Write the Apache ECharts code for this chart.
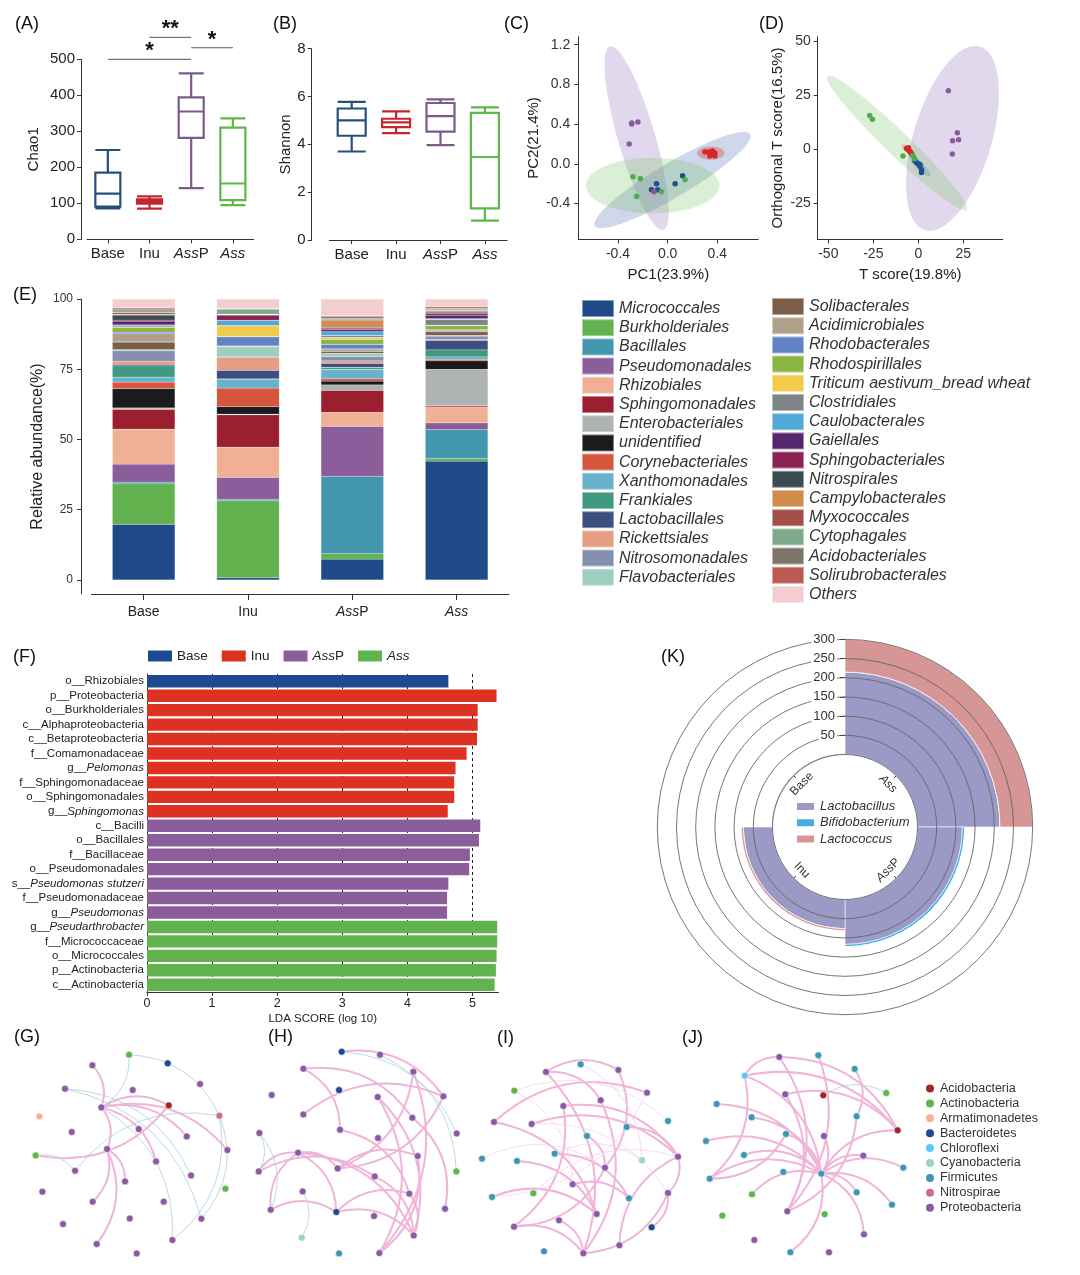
<!DOCTYPE html>
<html><head><meta charset="utf-8">
<script src="https://cdn.jsdelivr.net/npm/echarts@6/dist/echarts.min.js"></script>
<style>html,body{margin:0;padding:0;background:#fff}#c{width:1080px;height:1275px}</style>
</head><body><div id="c"></div>
<script>
// ---------------- DATA ----------------
const groups = ['Base', 'Inu', 'AssP', 'Ass'];
// (A) Chao1 boxplots: [min, Q1, median, Q3, max]
const chao1Box = [[86, 91, 127, 185, 248], [85, 99, 105, 111, 119], [142, 282, 355, 394, 461], [95, 109, 155, 310, 336]];
// significance brackets: [fromGroupIndex, y, toGroupIndex]
const chao1Sig = [[0, 500, 2], [1, 561, 2], [2, 532, 3]];
const chao1SigLabels = ['*', '**', '*'];
// (B) Shannon boxplots
const shannonBox = [[3.70, 4.36, 5.00, 5.50, 5.78], [4.47, 4.72, 4.92, 5.07, 5.38], [3.97, 4.53, 5.18, 5.73, 5.88], [0.81, 1.32, 3.47, 5.32, 5.55]];
// (C) PCoA points
const pcoaBase = [[-0.09, -0.20], [-0.13, -0.26], [-0.08, -0.26], [0.06, -0.20], [0.12, -0.12], [0.36, 0.11]];
const pcoaInu = [[0.30, 0.12], [0.33, 0.12], [0.36, 0.13], [0.38, 0.11], [0.34, 0.08], [0.38, 0.08], [0.36, 0.10]];
const pcoaAssP = [[-0.29, 0.40], [-0.29, 0.41], [-0.24, 0.42], [-0.31, 0.20], [-0.11, -0.28]];
const pcoaAss = [[-0.28, -0.13], [-0.22, -0.15], [-0.25, -0.33], [-0.05, -0.28], [0.14, -0.16]];
// confidence ellipses [cx, cy, ux, uy, vx, vy] (conjugate semi-axes, data units), order Base, Inu, AssP, Ass
const pcoaEllipses = [[0.039, -0.163, 0.625, 0.461, 0.070, -0.148], [0.347, 0.108, 0.111, 0, 0, 0.067], [-0.25, 0.259, 0.215, -0.923, 0.144, 0.052], [-0.121, -0.219, 0.538, 0, 0, 0.280]];
// (D) OPLS-DA
const oplsBase = [[-1.8, -5.5], [0, -6.9], [0.9, -7.9], [-0.9, -6.3], [1.8, -9.4], [1.8, -10.8], [0.9, -7.2]];
const oplsInu = [[-6.5, 0.3], [-5.8, -0.2], [-5.2, -0.6], [-4.6, -1.2], [-4.0, -1.8], [-3.6, -2.4], [-5.5, 0.6]];
const oplsAssP = [[16.7, 26.9], [21.7, 7.5], [22.4, 4.3], [19.1, 3.8], [18.9, -2.3]];
const oplsAss = [[-27, 15.5], [-25.5, 13.8], [-8.5, -3.2], [-3, -3], [-2, -4.5]];
const oplsEllipses = [[0.94, -7.85, 5.5, -4.57, 1.57, 1.3], [-5.7, -0.46, 3.3, -2.3, 1.07, 1.07], [19.0, 4.94, 15.3, 42.4, 20.8, -5.17], [-11.8, 2.77, 38.7, -30.9, 4.6, 4.0]];
// (E) relative abundance
const taxa = ['Micrococcales', 'Burkholderiales', 'Bacillales', 'Pseudomonadales', 'Rhizobiales', 'Sphingomonadales', 'Enterobacteriales', 'unidentified', 'Corynebacteriales', 'Xanthomonadales', 'Frankiales', 'Lactobacillales', 'Rickettsiales', 'Nitrosomonadales', 'Flavobacteriales', 'Solibacterales', 'Acidimicrobiales', 'Rhodobacterales', 'Rhodospirillales', 'Triticum aestivum_bread wheat', 'Clostridiales', 'Caulobacterales', 'Gaiellales', 'Sphingobacteriales', 'Nitrospirales', 'Campylobacterales', 'Myxococcales', 'Cytophagales', 'Acidobacteriales', 'Solirubrobacterales', 'Others'];
const abundBase = [19.8, 14.4, 0.6, 6.4, 12.5, 7.0, 0.5, 6.9, 2.3, 1.8, 4.0, 0.5, 1.2, 3.7, 0.4, 2.7, 3.0, 0.5, 1.7, 0.2, 0.4, 0.3, 1.3, 0.4, 1.8, 0.3, 0.6, 0.6, 0.6, 0.4, 3.2];
const abundInu = [0.8, 27.4, 0.6, 7.7, 10.8, 11.5, 0.2, 2.7, 6.6, 3.1, 0.2, 3.0, 4.6, 0.2, 3.6, 0.2, 0.1, 3.2, 0.2, 3.7, 0.2, 1.7, 0.1, 1.9, 0.1, 0.1, 0.1, 1.8, 0.1, 0.1, 3.4];
const abundAssP = [7.4, 2.0, 27.5, 17.8, 4.9, 7.9, 1.9, 1.4, 0.8, 3.3, 0.8, 1.4, 0.9, 1.5, 1.1, 0.8, 0.8, 1.7, 1.7, 0.7, 0.7, 1.4, 0.7, 0.5, 0.3, 2.4, 0.5, 0.3, 0.7, 0.2, 6.0];
const abundAss = [42.3, 1.0, 10.2, 2.4, 5.7, 0.5, 12.8, 3.1, 0.5, 0.9, 2.5, 3.4, 0.3, 1.2, 0.2, 1.3, 0.5, 0.3, 1.4, 0.2, 2.0, 0.3, 1.2, 0.7, 0.4, 0.2, 0.4, 0.4, 0.4, 0.5, 2.8];
// (F) LEfSe
const ldaNames = ['o__Rhizobiales', 'p__Proteobacteria', 'o__Burkholderiales', 'c__Alphaproteobacteria', 'c__Betaproteobacteria', 'f__Comamonadaceae', 'g__Pelomonas', 'f__Sphingomonadaceae', 'o__Sphingomonadales', 'g__Sphingomonas', 'c__Bacilli', 'o__Bacillales', 'f__Bacillaceae', 'o__Pseudomonadales', 's__Pseudomonas stutzeri', 'f__Pseudomonadaceae', 'g__Pseudomonas', 'g__Pseudarthrobacter', 'f__Micrococcaceae', 'o__Micrococcales', 'p__Actinobacteria', 'c__Actinobacteria'];
const ldaScores = [4.63, 5.37, 5.08, 5.08, 5.07, 4.91, 4.74, 4.72, 4.72, 4.62, 5.12, 5.10, 4.96, 4.95, 4.63, 4.61, 4.61, 5.38, 5.38, 5.37, 5.36, 5.34];
const ldaGroups = ['Base', 'Inu', 'Inu', 'Inu', 'Inu', 'Inu', 'Inu', 'Inu', 'Inu', 'Inu', 'AssP', 'AssP', 'AssP', 'AssP', 'AssP', 'AssP', 'AssP', 'Ass', 'Ass', 'Ass', 'Ass', 'Ass'];
// (K) polar stacked bars
const polarCats = ['Ass', 'AssP', 'Inu', 'Base'];
const kNames = ['Lactobacillus', 'Bifidobacterium', 'Lactococcus'];
const lactobacillus = [215, 117, 76, 4];
const bifidobacterium = [0, 6, 0, 0];
const lactococcus = [85, 0, 5, 0];
// (G-J) co-occurrence networks: nodes [x, y, phylumIndex], edges [source, target, kind]
const phyla = ['Acidobacteria', 'Actinobacteria', 'Armatimonadetes', 'Bacteroidetes', 'Chloroflexi', 'Cyanobacteria', 'Firmicutes', 'Nitrospirae', 'Proteobacteria'];
const gNodes = [[387,104,1],[503,130,3],[277,136,8],[600,192,8],[195,206,8],[398,210,8],[506,256,0],[304,262,8],[118,289,2],[658,287,7],[416,327,8],[215,336,8],[560,349,8],[321,387,8],[682,390,8],[107,406,1],[468,424,8],[225,452,8],[573,466,8],[375,484,8],[127,515,8],[676,506,1],[278,545,8],[491,545,8],[389,595,8],[604,596,8],[189,612,8],[517,660,8],[290,672,8],[410,700,8]];
const gEdges = [[2,7,'p'],[7,6,'p'],[7,14,'p'],[7,12,'p'],[7,16,'p'],[7,13,'p'],[6,15,'p'],[13,22,'p'],[13,19,'p'],[13,28,'p'],[0,9,'n'],[0,7,'n'],[4,18,'n'],[4,25,'n'],[15,17,'n'],[17,9,'n'],[9,25,'n'],[9,27,'n'],[7,27,'n']];
const hNodes = [[1025,95,3],[1140,104,8],[910,146,8],[1240,155,8],[1017,210,3],[815,225,8],[1133,231,8],[1330,229,8],[910,283,8],[1237,293,8],[1020,329,8],[778,339,8],[1370,340,8],[1134,354,8],[894,398,8],[1253,408,8],[776,454,8],[1013,445,8],[1369,454,1],[1124,469,8],[908,514,8],[1228,521,8],[812,569,8],[1009,576,3],[1335,566,8],[1122,588,8],[1241,646,8],[905,653,5],[1017,700,6],[1138,699,8]];
const hEdges = [[0,7,'p'],[2,10,'p'],[2,9,'p'],[3,17,'p'],[3,29,'p'],[8,7,'p'],[7,17,'p'],[6,26,'p'],[6,29,'p'],[9,24,'p'],[10,21,'p'],[14,17,'p'],[14,23,'p'],[14,26,'p'],[16,14,'p'],[16,19,'p'],[22,14,'p'],[22,23,'p'],[23,21,'p'],[23,26,'p'],[19,26,'p'],[15,29,'p'],[17,15,'p'],[21,26,'p'],[0,12,'n'],[1,18,'n'],[11,22,'n'],[11,16,'n'],[20,27,'n']];
const iNodes = [[332,133,6],[228,156,8],[445,150,8],[133,212,1],[531,218,8],[392,241,8],[280,258,8],[72,306,8],[185,312,8],[594,303,6],[470,321,6],[351,348,6],[36,416,6],[141,423,6],[254,401,6],[516,421,5],[624,410,8],[405,443,8],[308,493,8],[190,520,1],[66,531,6],[477,535,6],[594,519,8],[380,582,8],[267,601,8],[545,622,3],[132,620,8],[222,694,6],[340,700,8],[448,676,8]];
const iEdges = [[1,2,'p'],[1,5,'p'],[5,28,'p'],[6,26,'p'],[7,4,'p'],[7,23,'p'],[10,16,'p'],[6,16,'p'],[13,23,'p'],[17,26,'p'],[18,21,'p'],[20,23,'p'],[22,28,'p'],[16,22,'p'],[22,25,'p'],[24,28,'p'],[26,28,'p'],[29,16,'p'],[1,28,'p'],[2,17,'p'],[11,17,'p'],[8,16,'p'],[14,21,'p'],[3,9,'w'],[12,17,'w'],[8,22,'w'],[19,16,'w'],[14,15,'w'],[0,15,'w'],[4,20,'w'],[3,18,'w']];
const jNodes = [[928,111,8],[1045,106,6],[824,167,4],[1154,147,6],[946,223,8],[1060,226,0],[1249,219,1],[740,252,6],[845,292,6],[1160,289,6],[1283,331,0],[948,342,6],[1062,348,8],[708,363,6],[822,405,6],[1180,407,8],[1300,443,6],[940,456,6],[1054,461,6],[719,476,6],[846,523,1],[1160,517,6],[1266,554,6],[952,574,8],[1064,583,1],[757,587,1],[1182,643,8],[853,660,8],[961,697,6],[1077,697,8]];
const jEdges = [[2,0,'p'],[2,19,'p'],[2,10,'p'],[0,10,'p'],[0,23,'p'],[4,23,'p'],[4,10,'p'],[1,23,'p'],[3,9,'p'],[9,23,'p'],[7,18,'p'],[8,18,'p'],[11,19,'p'],[13,18,'p'],[19,18,'p'],[20,18,'p'],[18,10,'p'],[18,16,'p'],[18,21,'p'],[18,22,'p'],[18,26,'p'],[18,28,'p'],[2,18,'p'],[11,18,'p'],[12,18,'p'],[18,15,'p'],[14,18,'p'],[5,6,'n']];

// ---------------- STYLE ----------------
const FONT = "'Liberation Sans', Arial, Helvetica, sans-serif";
const groupColors = ['#24507c', '#c1272d', '#7b5a8c', '#5cb848'];
const scatterColors = ['#1f4e8f', '#d62728', '#8c5aa0', '#4cae4c'];
const ellipseFills = ['rgba(60,100,170,0.25)', 'rgba(215,60,60,0.35)', 'rgba(150,115,190,0.28)', 'rgba(110,190,90,0.25)'];
const taxaColors = ['#1f4a8a', '#63b250', '#4296ad', '#8b5e9b', '#f0b095', '#9b1f2f', '#adb4b2', '#1b1a1c', '#d6553f', '#68b3cb', '#409a80', '#3d4f80', '#e59d83', '#8590b1', '#9ccfc0', '#7a5e48', '#b0a08a', '#6282c5', '#8bb543', '#f2cb4c', '#7f8486', '#4fa8d6', '#56266e', '#8b2252', '#3a4b51', '#d08d4e', '#a44c48', '#7fa98d', '#7d7668', '#bb5a52', '#f3cdd0'];
const ldaColors = ['#1f4a8f', '#dc3123', '#8b5e9b', '#63b250'];
const kColors = ['#9b99c6', '#44aee0', '#d69696'];
const phylumColors = ['#a2252a', '#5cb84a', '#f5b497', '#1d4b8c', '#5cc8f7', '#98d3c3', '#3b97b4', '#c6708a', '#8a5aa4'];
const edgeStyles = {
  p: {color: '#f0b4d8', width: 2, curveness: 0.3, opacity: 1},
  w: {color: '#f6d2e8', width: 0.8, curveness: 0.3, opacity: 1},
  n: {color: '#a9cfdc', width: 0.8, curveness: 0.3, opacity: 1}
};

const grpFmt = v => v === 'AssP' ? '{i|Ass}P' : (v === 'Ass' ? '{i|Ass}' : v);
function grpLabel(size, margin) {
  return {interval: 0, formatter: grpFmt, fontSize: size, color: '#222', margin: margin, fontFamily: FONT,
    rich: {i: {fontStyle: 'italic', fontSize: size, color: '#222', fontFamily: FONT}}};
}
const axLine = {show: true, onZero: false, lineStyle: {color: '#333', width: 1}};
const axTick = {show: true, length: 4, lineStyle: {color: '#333'}};
const noBounds = {containLabel: false, outerBoundsMode: 'none'};

function ellipseRender(fills) {
  return function (params, api) {
    const cx = api.value(0), cy = api.value(1), ux = api.value(2), uy = api.value(3), vx = api.value(4), vy = api.value(5);
    const pts = [];
    for (let k = 0; k < 90; k++) {
      const t = k / 90 * 2 * Math.PI;
      pts.push(api.coord([cx + Math.cos(t) * ux + Math.sin(t) * vx, cy + Math.cos(t) * uy + Math.sin(t) * vy]));
    }
    return {type: 'polygon', shape: {points: pts}, style: {fill: fills[params.dataIndex]}};
  };
}

function graphSeries(nodes, edges, box) {
  return {
    type: 'graph', layout: 'none', left: box[0], top: box[1], width: box[2], height: box[3],
    roam: false, silent: true, symbolSize: 7,
    categories: phyla.map((p, i) => ({name: p, itemStyle: {color: phylumColors[i]}})),
    itemStyle: {borderColor: '#fff', borderWidth: 0.6},
    label: {show: false}, emphasis: {disabled: true},
    lineStyle: {curveness: 0.3},
    data: nodes.map((n, i) => ({name: 'n' + i, x: n[0], y: n[1], category: n[2]})),
    links: edges.map(e => ({source: e[0], target: e[1], lineStyle: edgeStyles[e[2]]}))
  };
}

const titleDefs = [['(A)', 15, 15], ['(B)', 273, 15], ['(C)', 504, 15], ['(D)', 759, 15], ['(E)', 13, 286], ['(F)', 13, 648], ['(K)', 661, 648], ['(G)', 14, 1028], ['(H)', 268, 1028], ['(I)', 497, 1029], ['(J)', 682, 1029]];

const option = {
  animation: false,
  backgroundColor: '#fff',
  textStyle: {fontFamily: FONT},
  title: titleDefs.map(t => ({text: t[0], left: t[1], top: t[2], padding: 0, textStyle: {fontSize: 18, fontWeight: 'normal', color: '#111', fontFamily: FONT}})),
  grid: [
    Object.assign({left: 87, top: 59.3, width: 166.7, height: 180}, noBounds),
    Object.assign({left: 329.5, top: 48.7, width: 177.6, height: 191.3}, noBounds),
    Object.assign({left: 578.3, top: 36.7, width: 180, height: 202.6}, noBounds),
    Object.assign({left: 817.7, top: 36.7, width: 185, height: 202.6}, noBounds),
    Object.assign({left: 91.5, top: 299, width: 417.3, height: 295}, noBounds),
    Object.assign({left: 147, top: 674, width: 351.5, height: 318}, noBounds)
  ],
  polar: [{center: [845, 827], radius: [72.5, 187.7]}],
  angleAxis: [{polarIndex: 0, type: 'category', data: polarCats, startAngle: 90, clockwise: true,
    axisLine: {show: false}, axisTick: {show: false}, axisLabel: {show: false}, splitLine: {show: false}}],
  radiusAxis: [{polarIndex: 0, type: 'value', min: 0, max: 300, interval: 50, z: 5,
    axisLine: {show: false}, axisTick: {show: true, length: 5, lineStyle: {color: '#444'}},
    axisLabel: {showMinLabel: false, fontSize: 13, color: '#333', backgroundColor: '#fff', padding: [0, 2, 0, 2]},
    splitLine: {show: true, showMinLine: false, lineStyle: {color: '#666', width: 0.9}}}],
  xAxis: [
    {gridIndex: 0, type: 'category', data: groups, axisLine: axLine, axisTick: Object.assign({alignWithLabel: true}, axTick), axisLabel: grpLabel(15, 7)},
    {gridIndex: 1, type: 'category', data: groups, axisLine: axLine, axisTick: Object.assign({alignWithLabel: true}, axTick), axisLabel: grpLabel(15, 7)},
    {gridIndex: 2, type: 'value', min: -0.72, max: 0.73, axisLine: axLine,
      axisTick: Object.assign({customValues: [-0.4, 0, 0.4]}, axTick),
      axisLabel: {customValues: [-0.4, 0, 0.4], formatter: v => v.toFixed(1), fontSize: 14, color: '#333', margin: 8},
      splitLine: {show: false}, name: 'PC1(23.9%)', nameLocation: 'middle', nameGap: 28, nameTextStyle: {fontSize: 15, color: '#222'}},
    {gridIndex: 3, type: 'value', min: -55.9, max: 46.9, axisLine: axLine,
      axisTick: Object.assign({customValues: [-50, -25, 0, 25]}, axTick),
      axisLabel: {customValues: [-50, -25, 0, 25], formatter: v => String(v), fontSize: 14, color: '#333', margin: 8},
      splitLine: {show: false}, name: 'T score(19.8%)', nameLocation: 'middle', nameGap: 28, nameTextStyle: {fontSize: 15, color: '#222'}},
    {gridIndex: 4, type: 'category', data: groups, axisLine: axLine, axisTick: Object.assign({alignWithLabel: true}, axTick, {length: 6}), axisLabel: grpLabel(14, 11)},
    {gridIndex: 5, type: 'value', min: 0, max: 5.4, interval: 1, axisLine: axLine, axisTick: axTick,
      axisLabel: {showMaxLabel: false, fontSize: 12.5, color: '#222', margin: 5},
      splitLine: {show: true, showMinLine: false, showMaxLine: false, lineStyle: {type: [3, 3], color: '#222', width: 1}},
      name: 'LDA SCORE (log 10)', nameLocation: 'middle', nameGap: 21, nameTextStyle: {fontSize: 11.5, color: '#222'}}
  ],
  yAxis: [
    {gridIndex: 0, type: 'value', min: 0, max: 500, interval: 100, offset: 6, axisLine: axLine, axisTick: axTick,
      axisLabel: {fontSize: 15, color: '#222', margin: 6}, splitLine: {show: false},
      name: 'Chao1', nameLocation: 'middle', nameGap: 40, nameTextStyle: {fontSize: 15, color: '#222'}},
    {gridIndex: 1, type: 'value', min: 0, max: 8, interval: 2, offset: 17.8, axisLine: axLine, axisTick: axTick,
      axisLabel: {fontSize: 15, color: '#222', margin: 6}, splitLine: {show: false},
      name: 'Shannon', nameLocation: 'middle', nameGap: 17, nameTextStyle: {fontSize: 15, color: '#222'}},
    {gridIndex: 2, type: 'value', min: -0.76, max: 1.28, axisLine: axLine,
      axisTick: Object.assign({customValues: [-0.4, 0, 0.4, 0.8, 1.2]}, axTick),
      axisLabel: {customValues: [-0.4, 0, 0.4, 0.8, 1.2], formatter: v => v.toFixed(1), fontSize: 14, color: '#333', margin: 8},
      splitLine: {show: false}, name: 'PC2(21.4%)', nameLocation: 'middle', nameGap: 37, nameTextStyle: {fontSize: 15, color: '#222'}},
    {gridIndex: 3, type: 'value', min: -41.7, max: 51.9, axisLine: axLine,
      axisTick: Object.assign({customValues: [-25, 0, 25, 50]}, axTick),
      axisLabel: {customValues: [-25, 0, 25, 50], formatter: v => String(v), fontSize: 14, color: '#333', margin: 7},
      splitLine: {show: false}, name: 'Orthogonal T score(16.5%)', nameLocation: 'middle', nameGap: 32, nameTextStyle: {fontSize: 15, color: '#222'}},
    {gridIndex: 4, type: 'value', min: -5, max: 100, offset: 10.5, axisLine: axLine,
      axisTick: Object.assign({customValues: [0, 25, 50, 75, 100]}, axTick),
      axisLabel: {customValues: [0, 25, 50, 75, 100], fontSize: 12, color: '#333', margin: 8}, splitLine: {show: false},
      name: 'Relative abundance(%)', nameLocation: 'middle', nameGap: 35, nameTextStyle: {fontSize: 16, color: '#222'}},
    {gridIndex: 5, type: 'category', data: ldaNames, inverse: true, axisLine: axLine, axisTick: {show: false},
      axisLabel: {interval: 0, fontSize: 11.5, color: '#222', margin: 3,
        formatter: v => { const m = v.match(/^([a-z]__)(.*)$/); return (m && (m[1] === 'g__' || m[1] === 's__')) ? m[1] + '{i|' + m[2] + '}' : v; },
        rich: {i: {fontStyle: 'italic', fontSize: 11.5, color: '#222'}}}}
  ],
  legend: [
    {data: taxa.slice(0, 15), left: 581, top: 299, orient: 'vertical', icon: 'rect', itemWidth: 32, itemHeight: 17, itemGap: 0.2, padding: 0, selectedMode: false,
      textStyle: {fontSize: 16, lineHeight: 17, fontStyle: 'italic', color: '#333', fontFamily: FONT}},
    {data: taxa.slice(15), left: 771, top: 297, orient: 'vertical', icon: 'rect', itemWidth: 32, itemHeight: 17, itemGap: 0.2, padding: 0, selectedMode: false,
      textStyle: {fontSize: 16, lineHeight: 17, fontStyle: 'italic', color: '#333', fontFamily: FONT}},
    {data: groups, left: 148, top: 649, orient: 'horizontal', icon: 'rect', itemWidth: 24, itemHeight: 11, itemGap: 14, padding: 0, selectedMode: false,
      formatter: grpFmt, textStyle: {fontSize: 13.5, color: '#222', rich: {i: {fontStyle: 'italic', fontSize: 13.5, color: '#222'}}}},
    {data: kNames, left: 795, top: 800, orient: 'vertical', icon: 'rect', itemWidth: 19, itemHeight: 9, itemGap: 3.3, padding: 0, selectedMode: false,
      textStyle: {fontSize: 13, lineHeight: 13, fontStyle: 'italic', color: '#333'}},
    {data: phyla, left: 924, top: 1082, orient: 'vertical', icon: 'circle', itemWidth: 10, itemHeight: 10, itemGap: 1.9, padding: 0, selectedMode: false,
      textStyle: {fontSize: 12.5, lineHeight: 12, color: '#333'}}
  ],
  series: [
    // (A)
    {name: 'chao1', type: 'boxplot', xAxisIndex: 0, yAxisIndex: 0, boxWidth: [25, 25], silent: true, emphasis: {disabled: true},
      itemStyle: {color: 'rgba(255,255,255,0)', borderWidth: 2.2},
      data: chao1Box.map((v, i) => ({value: v, itemStyle: {borderColor: groupColors[i]}}))},
    {name: 'chao1-sig', type: 'custom', xAxisIndex: 0, yAxisIndex: 0, clip: false, silent: true, data: chao1Sig,
      renderItem: (params, api) => {
        const a = api.coord([api.value(0), api.value(1)]);
        const b = api.coord([api.value(2), api.value(1)]);
        return {type: 'group', children: [
          {type: 'line', shape: {x1: a[0], y1: a[1], x2: b[0], y2: b[1]}, style: {stroke: '#555', lineWidth: 1}},
          {type: 'text', x: (a[0] + b[0]) / 2, y: a[1] - 8, style: {text: chao1SigLabels[params.dataIndex], align: 'center', verticalAlign: 'middle', fontSize: 22, fontWeight: 'bold', fill: '#111', fontFamily: FONT}}
        ]};
      }},
    // (B)
    {name: 'shannon', type: 'boxplot', xAxisIndex: 1, yAxisIndex: 1, boxWidth: [28, 28], silent: true, emphasis: {disabled: true},
      itemStyle: {color: 'rgba(255,255,255,0)', borderWidth: 2.2},
      data: shannonBox.map((v, i) => ({value: v, itemStyle: {borderColor: groupColors[i]}}))},
    // (C)
    {name: 'pcoa-ellipse', type: 'custom', xAxisIndex: 2, yAxisIndex: 2, clip: false, silent: true, z: 1, data: pcoaEllipses, renderItem: ellipseRender(ellipseFills)},
    ...[pcoaBase, pcoaInu, pcoaAssP, pcoaAss].map((d, i) => ({name: 'pcoa-' + groups[i], type: 'scatter', xAxisIndex: 2, yAxisIndex: 2, symbolSize: 5.5, silent: true, itemStyle: {color: scatterColors[i], opacity: 1}, data: d})),
    // (D)
    {name: 'opls-ellipse', type: 'custom', xAxisIndex: 3, yAxisIndex: 3, clip: false, silent: true, z: 1, data: oplsEllipses, renderItem: ellipseRender(ellipseFills)},
    ...[oplsBase, oplsInu, oplsAssP, oplsAss].map((d, i) => ({name: 'opls-' + groups[i], type: 'scatter', xAxisIndex: 3, yAxisIndex: 3, symbolSize: 5.5, silent: true, itemStyle: {color: scatterColors[i], opacity: 1}, data: d})),
    // (E)
    ...taxa.map((t, i) => ({name: t, type: 'bar', stack: 'E', xAxisIndex: 4, yAxisIndex: 4, barWidth: '60%', silent: true,
      itemStyle: {color: taxaColors[i], borderColor: 'rgba(255,255,255,0.45)', borderWidth: 0.3},
      data: [abundBase[i], abundInu[i], abundAssP[i], abundAss[i]]})),
    // (F)
    ...groups.map((g, gi) => ({name: g, type: 'bar', stack: 'lda', xAxisIndex: 5, yAxisIndex: 5, barWidth: '86%', silent: true,
      itemStyle: {color: ldaColors[gi]}, data: ldaScores.map((v, i) => ldaGroups[i] === g ? v : '-')})),
    // (K)
    ...[lactobacillus, bifidobacterium, lactococcus].map((d, j) => ({name: kNames[j], type: 'bar', coordinateSystem: 'polar', polarIndex: 0, stack: 'k',
      barCategoryGap: '0%', silent: true, itemStyle: {color: kColors[j], borderColor: '#fff', borderWidth: 0.6}, data: d})),
    {name: 'k-labels', type: 'custom', coordinateSystem: 'polar', polarIndex: 0, silent: true, clip: false,
      data: polarCats.map((c, i) => [-30, i]),
      renderItem: (params, api) => {
        const p = api.coord([api.value(0), api.value(1)]);
        const t0 = api.coord([-8, api.value(1)]);
        const t1 = api.coord([-1, api.value(1)]);
        const cx = params.coordSys.cx, cy = params.coordSys.cy;
        const ang = Math.atan2(cy - p[1], p[0] - cx);
        let rot = ang - Math.PI / 2;
        if (Math.sin(ang) < 0) rot += Math.PI;
        return {type: 'group', children: [
          {type: 'line', shape: {x1: t0[0], y1: t0[1], x2: t1[0], y2: t1[1]}, style: {stroke: '#333', lineWidth: 1}},
          {type: 'text', x: p[0], y: p[1], rotation: rot, style: {text: grpFmt(polarCats[params.dataIndex]), align: 'center', verticalAlign: 'middle', fontSize: 12, fill: '#333', fontFamily: FONT,
            rich: {i: {fontStyle: 'italic', fontSize: 12, fill: '#333', fontFamily: FONT}}}}
        ]};
      }},
    // (G-J)
    graphSeries(gNodes, gEdges, [35.7, 1054.7, 191.7, 198.7]),
    graphSeries(hNodes, hEdges, [258.7, 1051.7, 198, 201.7]),
    graphSeries(iNodes, iEdges, [482, 1064.3, 196, 189]),
    graphSeries(jNodes, jEdges, [706, 1055.3, 197.3, 197])
  ]
};

const chart = echarts.init(document.getElementById('c'), null, {renderer: 'canvas', width: 1080, height: 1275});
chart.setOption(option);
</script></body></html>
